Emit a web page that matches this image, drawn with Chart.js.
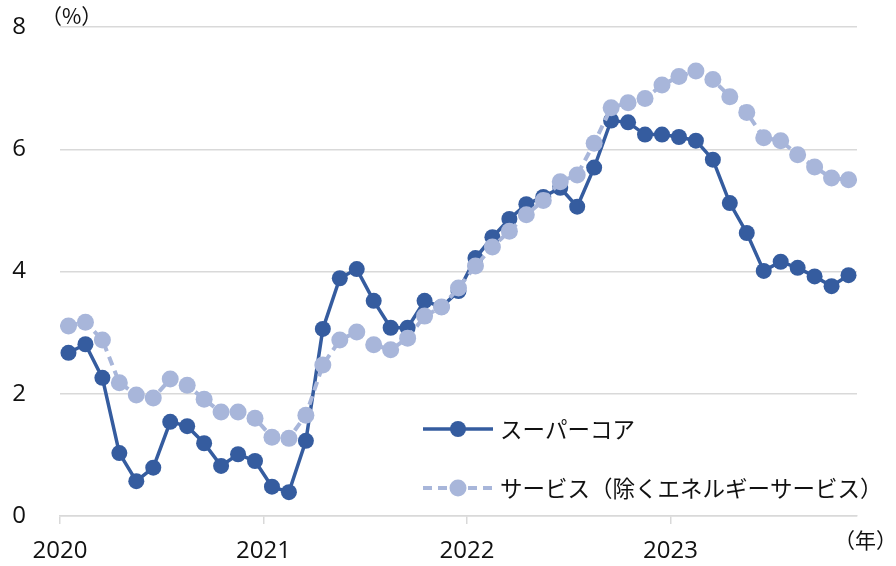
<!DOCTYPE html>
<html>
<head>
<meta charset="utf-8">
<script src="https://cdn.jsdelivr.net/npm/chart.js@4/dist/chart.umd.min.js"></script>
<style>
  html, body { margin: 0; padding: 0; background: #fff; }
  #wrap { width: 896px; height: 566px; }
</style>
</head>
<body>
<div id="wrap"><canvas id="chart"></canvas></div>
<script>
// 月次データ（2020年1月〜2023年11月）
const yearLabels = ["2020", "2021", "2022", "2023"];
const yearTickPos = [0, 12, 24, 36];
const seriesNames = ["スーパーコア", "サービス（除くエネルギーサービス）"];

const superCore = [
  2.67, 2.81, 2.26, 1.03, 0.57, 0.79, 1.54, 1.47, 1.19, 0.82, 1.01, 0.90,
  0.48, 0.39, 1.23, 3.06, 3.89, 4.04, 3.52, 3.08, 3.08, 3.52, 3.42, 3.68,
  4.22, 4.56, 4.86, 5.10, 5.22, 5.37, 5.06, 5.70, 6.47, 6.44, 6.24, 6.24,
  6.20, 6.14, 5.83, 5.12, 4.63, 4.01, 4.16, 4.06, 3.92, 3.76, 3.94
];
const services = [
  3.11, 3.17, 2.88, 2.18, 1.98, 1.93, 2.24, 2.14, 1.91, 1.70, 1.70, 1.60,
  1.29, 1.27, 1.65, 2.47, 2.88, 3.01, 2.80, 2.72, 2.91, 3.27, 3.42, 3.73,
  4.09, 4.40, 4.66, 4.93, 5.16, 5.47, 5.58, 6.10, 6.68, 6.76, 6.83, 7.05,
  7.19, 7.28, 7.14, 6.86, 6.60, 6.19, 6.14, 5.91, 5.71, 5.53, 5.50
];

const DARK = "#355c9f";
const LIGHT = "#a8b6da";
const GRID = "#d9d9d9";
const FONT = "'Noto Sans CJK JP', 'Noto Sans', sans-serif";
const NUM_FONT = "'Open Sans', 'Noto Sans', sans-serif";

// 各月の中央に点を置く
const toPoints = arr => arr.map((v, i) => ({ x: i + 0.5, y: v }));

// 凡例と単位ラベルを描画
const extrasPlugin = {
  id: "extras",
  afterDraw(chart) {
    const ctx = chart.ctx;
    ctx.save();
    ctx.fillStyle = "#111";
    ctx.textBaseline = "middle";
    ctx.font = "21px " + FONT;
    ctx.textAlign = "left";
    ctx.fillText("（%）", 41, 16);
    ctx.fillText("（年）", 834, 540);

    ctx.fontKerning = "none";
    const items = [chart.data.datasets[0], chart.data.datasets[1]];
    const rows = [429, 488];
    items.forEach((ds, i) => {
      const y = rows[i];
      ctx.strokeStyle = ds.borderColor;
      ctx.lineWidth = ds.borderWidth;
      ctx.setLineDash(ds.borderDash || []);
      ctx.beginPath();
      ctx.moveTo(423, y);
      ctx.lineTo(493, y);
      ctx.stroke();
      ctx.setLineDash([]);
      ctx.fillStyle = ds.pointBackgroundColor;
      ctx.beginPath();
      ctx.arc(458, y, ds.pointRadius, 0, Math.PI * 2);
      ctx.fill();
      ctx.fillStyle = "#111";
      ctx.font = "22.5px " + FONT;
      ctx.fillText(ds.label, 500, y);
    });
    ctx.restore();
  }
};

new Chart(document.getElementById("chart"), {
  type: "line",
  data: {
    datasets: [
      {
        label: seriesNames[0],
        data: toPoints(superCore),
        borderColor: DARK,
        borderWidth: 3.5,
        pointBackgroundColor: DARK,
        pointBorderWidth: 0,
        pointRadius: 8,
        order: 1
      },
      {
        label: seriesNames[1],
        data: toPoints(services),
        borderColor: LIGHT,
        borderWidth: 4,
        borderDash: [9, 6],
        pointBackgroundColor: LIGHT,
        pointBorderWidth: 0,
        pointRadius: 8.5,
        order: 0
      }
    ]
  },
  options: {
    responsive: true,
    maintainAspectRatio: false,
    animation: false,
    layout: { padding: { top: 27, right: 39, left: 0, bottom: 0 } },
    plugins: {
      legend: { display: false },
      tooltip: { enabled: false }
    },
    scales: {
      x: {
        type: "linear",
        min: 0,
        max: 47,
        afterBuildTicks: scale => {
          scale.ticks = yearTickPos.map(v => ({ value: v }));
        },
        afterFit: scale => { scale.height = 50; },
        border: { color: GRID, width: 1.5 },
        grid: { drawOnChartArea: false, color: GRID, tickLength: 8, lineWidth: 1.5 },
        ticks: {
          color: "#111",
          font: { family: NUM_FONT, size: 24 },
          padding: 13,
          maxRotation: 0,
          callback: v => yearLabels[yearTickPos.indexOf(v)]
        }
      },
      y: {
        min: 0,
        max: 8,
        afterFit: scale => { scale.width = 60; },
        border: { display: false },
        // 目盛り線は透明にして、ラベルの位置だけずらす
        grid: { color: GRID, lineWidth: 1.5, drawTicks: true, tickLength: 34, tickColor: "rgba(0,0,0,0)" },
        ticks: {
          stepSize: 2,
          color: "#111",
          font: { family: NUM_FONT, size: 24 },
          padding: 0
        }
      }
    }
  },
  plugins: [extrasPlugin]
});
</script>
</body>
</html>
